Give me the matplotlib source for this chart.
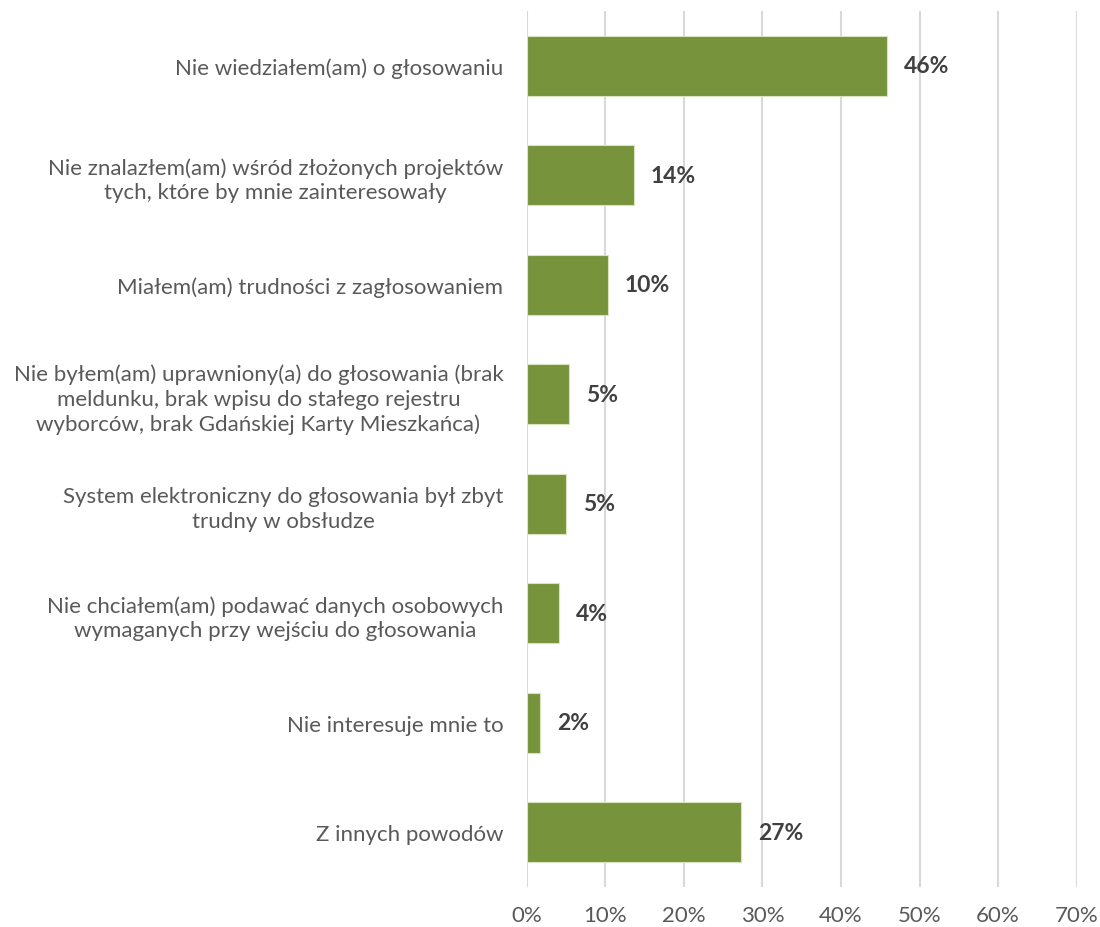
import matplotlib
matplotlib.use("Agg")
import matplotlib.pyplot as plt
from matplotlib.ticker import FuncFormatter

categories = [
    "Nie wiedziałem(am) o głosowaniu",
    "Nie znalazłem(am) wśród złożonych projektów\ntych, które by mnie zainteresowały",
    "Miałem(am) trudności z zagłosowaniem",
    "Nie byłem(am) uprawniony(a) do głosowania (brak\nmeldunku, brak wpisu do stałego rejestru\nwyborców, brak Gdańskiej Karty Mieszkańca)",
    "System elektroniczny do głosowania był zbyt\ntrudny w obsłudze",
    "Nie chciałem(am) podawać danych osobowych\nwymaganych przy wejściu do głosowania",
    "Nie interesuje mnie to",
    "Z innych powodów",
]
values = [45.9, 13.6, 10.3, 5.4, 5.0, 4.1, 1.7, 27.3]
xticks = [0, 10, 20, 30, 40, 50, 60, 70]

plt.rcParams['font.family'] = ['Lato', 'DejaVu Sans']
text_color = '#595959'
bar_color = '#77933C'

fig = plt.figure(figsize=(11, 9.28), dpi=100)
ax = fig.add_axes([0.479, 0.043, 0.4997, 0.944])

y = list(range(len(categories)))
ax.barh(y, values, height=0.55, color=bar_color, edgecolor='#D7E4BD', linewidth=0.8, zorder=3)
ax.set_ylim(len(categories) - 0.5, -0.5)
ax.set_xlim(0, 70)
ax.set_xticks(xticks)
ax.xaxis.set_major_formatter(FuncFormatter(lambda v, p: f"{v:.0f}%"))
ax.set_yticks(y)
ax.set_yticklabels(categories, ha='right', multialignment='center', linespacing=1.3)
ax.tick_params(axis='y', length=0, pad=17, labelsize=16, labelcolor=text_color)
ax.tick_params(axis='x', length=0, pad=13, labelsize=16, labelcolor=text_color)

ax.grid(axis='x', color='#D9D9D9', linewidth=1.5, zorder=0)
for s in ax.spines.values():
    s.set_visible(False)

for yi, v in zip(y, values):
    ax.annotate(f"{round(v):.0f}%", xy=(v, yi), xytext=(12, 0), textcoords='offset points',
                va='center', ha='left', fontsize=16.5, fontweight='bold', color='#404040')

fig.savefig("out.png", dpi=100)
